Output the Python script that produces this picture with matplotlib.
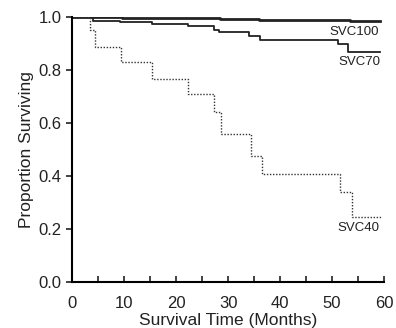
import matplotlib
matplotlib.use("Agg")
import matplotlib.pyplot as plt
from matplotlib.ticker import MultipleLocator

plt.rcParams['font.family'] = ['Liberation Sans', 'DejaVu Sans']

# Kaplan-Meier step curves (months, proportion)
svc100_t = [0, 9.6, 28.5, 36.0, 53.5, 59.3]
svc100_s = [1.0, 0.997, 0.994, 0.990, 0.985, 0.985]

svc70_t = [0, 4.0, 9.2, 15.3, 22.3, 27.3, 28.3, 34.0, 36.2, 51.2, 53.0, 59.3]
svc70_s = [1.0, 0.986, 0.980, 0.974, 0.967, 0.953, 0.942, 0.929, 0.912, 0.900, 0.868, 0.868]

svc40_t = [0, 3.5, 4.4, 9.4, 15.4, 22.3, 27.3, 28.6, 34.4, 36.5, 51.5, 53.8, 59.6]
svc40_s = [1.0, 0.950, 0.887, 0.830, 0.767, 0.708, 0.643, 0.558, 0.477, 0.408, 0.341, 0.246, 0.246]

labels = ["SVC100", "SVC70", "SVC40"]
label_pos = [(54.3, 0.945), (55.3, 0.832), (55.0, 0.205)]

fig = plt.figure(figsize=(3.96, 3.28), dpi=100)
ax = fig.add_axes([0.182, 0.140, 0.788, 0.808])

ax.step(svc100_t, svc100_s, where='post', color='#222222', lw=2.0)
ax.step(svc70_t, svc70_s, where='post', color='#222222', lw=1.3)
ax.step(svc40_t, svc40_s, where='post', color='#333333', lw=1.0, linestyle=(0, (1, 1.2)))

for lab, (x, y) in zip(labels, label_pos):
    ax.text(x, y, lab, ha='center', va='center', fontsize=9.5, color='#222222')

ax.set_xlim(0, 60)
ax.set_ylim(0, 1.0)
ax.xaxis.set_major_locator(MultipleLocator(10))
ax.xaxis.set_minor_locator(MultipleLocator(5))
ax.yaxis.set_major_locator(MultipleLocator(0.2))
ax.yaxis.set_major_formatter(matplotlib.ticker.FormatStrFormatter('%.1f'))

ax.spines['top'].set_visible(False)
ax.spines['right'].set_visible(False)
ax.spines['left'].set_linewidth(1.5)
ax.spines['bottom'].set_linewidth(1.5)
ax.tick_params(axis='x', which='both', direction='in', length=4, width=1.2, labelsize=12, colors='#222222', pad=10)
ax.tick_params(axis='y', direction='out', length=4, width=1.2, labelsize=12, colors='#222222')

ax.set_xlabel("Survival Time (Months)", fontsize=12.5, color='#222222')
ax.xaxis.label.set_va('center')
ax.xaxis.set_label_coords(0.5, -0.145)
ax.set_ylabel("Proportion Surviving", fontsize=12.5, color='#222222', labelpad=3)

fig.savefig("out.png", dpi=100)
